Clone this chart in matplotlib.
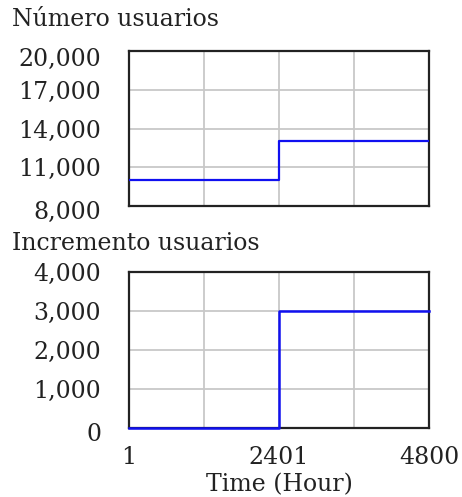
import matplotlib
matplotlib.use("Agg")
import matplotlib.pyplot as plt
from matplotlib.transforms import ScaledTranslation

# Vensim-style output: two step series over simulation time
time = [1, 2401, 4800]
numero_usuarios = [10000, 13000, 13000]
incremento_usuarios = [0, 3000, 3000]

xticks = [1, 2401, 4800]
xgrid = [1200.75, 2400.5, 3600.25]
top_yticks = [8000, 11000, 14000, 17000, 20000]
bot_yticks = [0, 1000, 2000, 3000, 4000]

FONT = "DejaVu Serif"
FS = 17
BLUE = "#1010f0"
GRID = "#c8c8c8"

fig = plt.figure(figsize=(4.62, 4.97), dpi=100)
W, H = 462, 497
ax1 = fig.add_axes([129 / W, 1 - 206 / H, 300 / W, 155 / H])
ax2 = fig.add_axes([129 / W, 1 - 428 / H, 300 / W, 156 / H])


def style(ax, yticks):
    ax.set_xlim(time[0], time[-1])
    ax.set_ylim(yticks[0], yticks[-1])
    ax.set_yticks(yticks)
    ax.set_yticklabels([f"{v:,}" for v in yticks], fontfamily=FONT, fontsize=FS)
    for v in yticks[1:-1]:
        ax.axhline(v, color=GRID, lw=1.3, zorder=1)
    for v in xgrid:
        ax.axvline(v, color=GRID, lw=1.3, zorder=1)
    ax.tick_params(length=0, pad=20, colors="#222")
    for s in ax.spines.values():
        s.set_linewidth(1.6)
        s.set_color("#222")
        s.set_zorder(2)


def nudge(label, dy_px):
    label.set_transform(label.get_transform() + ScaledTranslation(0, -dy_px / 100, fig.dpi_scale_trans))


style(ax1, top_yticks)
ax1.plot(time, numero_usuarios, drawstyle="steps-post", color=BLUE, lw=1.6, zorder=3)
ax1.set_xticks([])
labs = ax1.get_yticklabels()
nudge(labs[0], 4)
nudge(labs[-1], 6)

style(ax2, bot_yticks)
ax2.plot(time, incremento_usuarios, drawstyle="steps-post", color=BLUE, lw=1.8,
         zorder=5, clip_on=False)
ax2.set_xticks(xticks)
ax2.set_xticklabels([str(t) for t in xticks], fontfamily=FONT, fontsize=FS)
ax2.tick_params(axis="x", pad=13)
nudge(ax2.get_yticklabels()[0], 4)
ax2.set_xlabel("Time (Hour)", fontfamily=FONT, fontsize=FS, labelpad=3, color="#222")

fig.text(12 / W, 1 - 20 / H, "Número usuarios", fontfamily=FONT, fontsize=FS,
         va="center", ha="left", color="#222")
fig.text(12 / W, 1 - 243 / H, "Incremento usuarios", fontfamily=FONT, fontsize=FS,
         va="center", ha="left", color="#222")

fig.savefig("out.png", dpi=100, facecolor="white")
